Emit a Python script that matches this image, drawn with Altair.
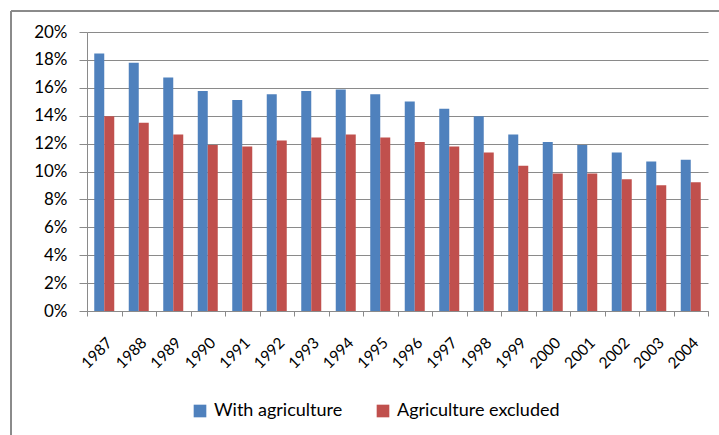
import altair as alt
import pandas as pd

years = [str(y) for y in range(1987, 2005)]
with_agri = [18.45, 17.8, 16.73, 15.77, 15.13, 15.53, 15.77, 15.87, 15.53,
             15.01, 14.49, 13.96, 12.65, 12.12, 11.9, 11.36, 10.72, 10.84]
agri_excl = [13.96, 13.5, 12.65, 11.9, 11.8, 12.22, 12.43, 12.65, 12.43,
             12.12, 11.8, 11.36, 10.41, 9.86, 9.86, 9.45, 9.02, 9.23]
series = ["With agriculture", "Agriculture excluded"]
colors = ["#4F81BD", "#C0504D"]
y_ticks = [0, 0.02, 0.04, 0.06, 0.08, 0.10, 0.12, 0.14, 0.16, 0.18, 0.20]

rows = []
for i, yr in enumerate(years):
    rows.append({"year": yr, "series": series[0], "value": with_agri[i] / 100})
    rows.append({"year": yr, "series": series[1], "value": agri_excl[i] / 100})
df = pd.DataFrame(rows)

FONT = "Lato"
GREY = "#8a8a8a"

bars = alt.Chart(df).mark_bar().encode(
    x=alt.X("year:N", sort=years, title=None,
            scale=alt.Scale(paddingInner=0, paddingOuter=0),
            axis=alt.Axis(labelAngle=-45, labelFont=FONT, labelFontSize=15.5,
                          labelColor="black", tickBand="extent", tickSize=5,
                          tickColor=GREY, domainColor=GREY, labelPadding=19,
                          grid=False)),
    xOffset=alt.XOffset("series:N", sort=series,
                        scale=alt.Scale(paddingInner=0, paddingOuter=0.725)),
    y=alt.Y("value:Q", title=None,
            scale=alt.Scale(domain=[0, 0.2], nice=False),
            axis=alt.Axis(values=y_ticks, format=".0%", labelFont=FONT,
                          labelFontSize=17, labelColor="black", tickSize=8,
                          tickColor=GREY, domainColor=GREY, gridColor=GREY,
                          gridWidth=1, labelPadding=12)),
    color=alt.Color("series:N", sort=series,
                    scale=alt.Scale(domain=series, range=colors),
                    legend=alt.Legend(title=None, orient="none", legendX=104,
                                      legendY=370, direction="horizontal",
                                      symbolType="square", symbolSize=160,
                                      symbolStrokeWidth=0, labelFont=FONT,
                                      labelFontSize=18, labelColor="black",
                                      labelLimit=400,
                                      columnPadding=31, labelOffset=5,
                                      padding=0)),
)

frame_top = alt.Chart(df).mark_rule(color=GREY, strokeWidth=1).encode(
    x=alt.value(-76), x2=alt.value(640), y=alt.value(-21))
frame_left = alt.Chart(df).mark_rule(color=GREY, strokeWidth=1).encode(
    x=alt.value(-76), y=alt.value(-21), y2=alt.value(420))

chart = alt.layer(bars, frame_top, frame_left).properties(
    width=621, height=279,
    autosize=alt.AutoSizeParams(type="none"),
    padding={"left": 87, "top": 32, "right": 11, "bottom": 124},
    background="white",
).configure_view(stroke=None)

chart.save("out.html", embed_options={"renderer": "svg", "actions": False})
